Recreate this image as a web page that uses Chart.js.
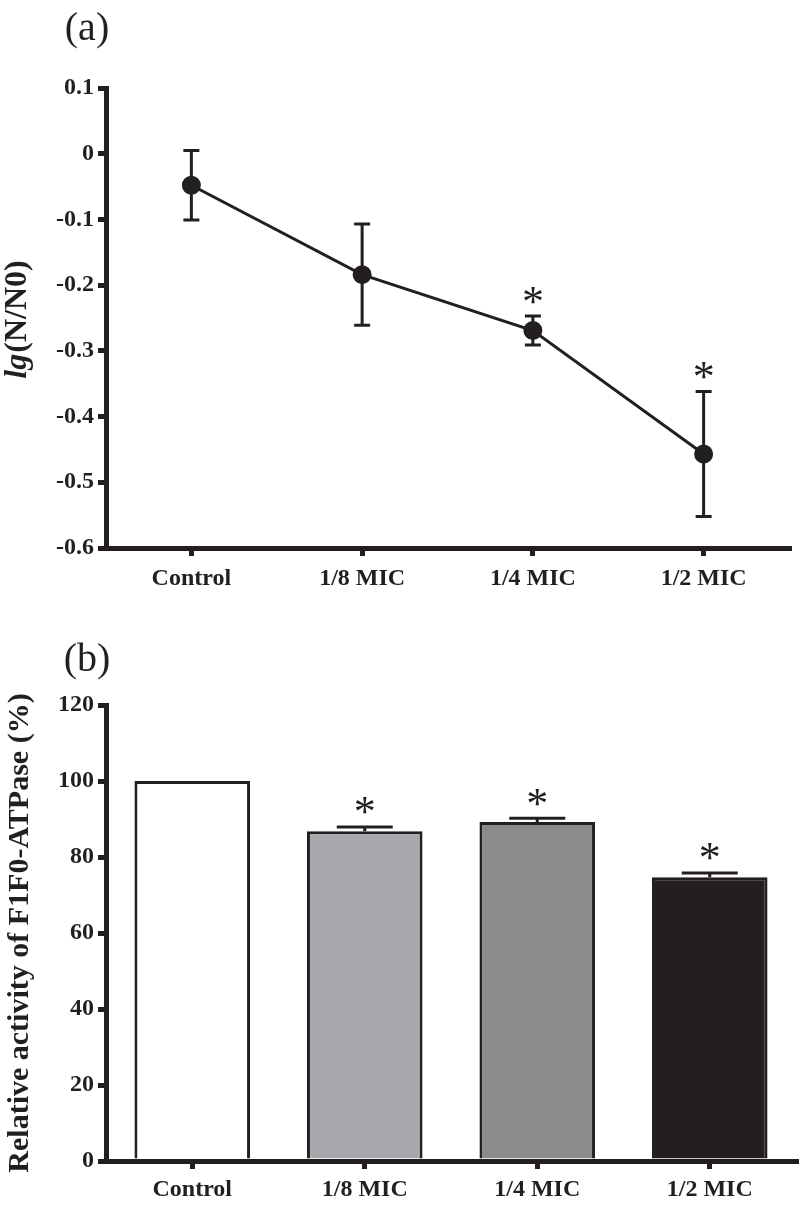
<!DOCTYPE html>
<html>
<head>
<meta charset="utf-8">
<script src="https://cdn.jsdelivr.net/npm/chart.js@4.4.0/dist/chart.umd.min.js"></script>
<style>
  body { margin: 0; background: #fff; }
  .panel { position: absolute; left: 0; width: 800px; }
  #panelA { top: 0; height: 600px; }
  #panelB { top: 600px; height: 606px; }
</style>
</head>
<body>
<div class="panel" id="panelA"><canvas id="chartA"></canvas></div>
<div class="panel" id="panelB"><canvas id="chartB"></canvas></div>
<script>
// Data
const categories = ['Control', '1/8 MIC', '1/4 MIC', '1/2 MIC'];

// panel (a): lg(N/N0)
const logValues = [-0.048, -0.184, -0.269, -0.457];
const logErrors = [0.053, 0.077, 0.022, 0.095];
const logSignificant = [false, false, true, true];

// panel (b): relative F1F0-ATPase activity
const activityValues = [100, 86.8, 89.2, 74.7];
const activityErrors = [0, 1.1, 1.0, 1.1];
const activitySignificant = [false, true, true, true];
const barColors = ['#ffffff', '#a7a9ac', '#8a8b8d', '#231f20'];

const INK = '#231f20';
const SERIF = "'Liberation Serif', 'Times New Roman', serif";

// Error bars + asterisks drawn through the chart scales
function errorBarPlugin(values, errors, significant, capHalf, upOnly) {
  return {
    id: 'errorBars',
    afterDatasetsDraw(chart) {
      const ctx = chart.ctx;
      const x = chart.scales.x, y = chart.scales.y;
      ctx.save();
      ctx.strokeStyle = INK;
      ctx.lineWidth = 3;
      values.forEach((v, i) => {
        if (!errors[i]) return;
        const px = x.getPixelForValue(i);
        const top = y.getPixelForValue(v + errors[i]);
        const bot = upOnly ? y.getPixelForValue(v) : y.getPixelForValue(v - errors[i]);
        ctx.beginPath();
        ctx.moveTo(px, top); ctx.lineTo(px, bot);
        ctx.moveTo(px - capHalf, top); ctx.lineTo(px + capHalf, top);
        if (!upOnly) { ctx.moveTo(px - capHalf, bot); ctx.lineTo(px + capHalf, bot); }
        ctx.stroke();
      });
      // significance marks
      ctx.fillStyle = INK;
      ctx.font = '44px ' + SERIF;
      ctx.textAlign = 'center';
      ctx.textBaseline = 'alphabetic';
      values.forEach((v, i) => {
        if (!significant[i]) return;
        const px = x.getPixelForValue(i);
        const top = y.getPixelForValue(v + errors[i]);
        const m = ctx.measureText('*');
        const cy = top - 21;
        ctx.fillText('*', px, cy + (m.actualBoundingBoxAscent - m.actualBoundingBoxDescent) / 2);
      });
      ctx.restore();
    }
  };
}

// Panel letter and custom y title
function decorPlugin(letter, letterY, drawTitle) {
  return {
    id: 'decor',
    afterDraw(chart) {
      const ctx = chart.ctx;
      ctx.save();
      ctx.fillStyle = INK;
      ctx.font = '40px ' + SERIF;
      ctx.textAlign = 'center';
      ctx.textBaseline = 'middle';
      ctx.fillText(letter, 87, letterY);
      if (drawTitle) drawTitle(ctx, chart);
      ctx.restore();
    }
  };
}

function axisOptions() {
  return {
    border: { display: true, color: INK, width: 5 },
    grid: { display: true, drawOnChartArea: false, color: INK, lineWidth: 5, tickLength: 8, offset: false },
    ticks: { color: INK, font: { family: SERIF, size: 24, weight: 'bold' }, padding: 4 }
  };
}

Chart.defaults.animation = false;

// (a) line chart
const xA = axisOptions();
xA.offset = true;
xA.ticks.padding = 8;
xA.afterFit = s => { s.height = 52; };
const yA = axisOptions();
yA.min = -0.6; yA.max = 0.1;
yA.ticks.stepSize = 0.1;
yA.ticks.callback = v => (Math.abs(v) < 1e-9 ? '0' : parseFloat(v.toFixed(1)).toString());
yA.afterFit = s => { s.width = 106; };

new Chart(document.getElementById('chartA'), {
  type: 'line',
  data: {
    labels: categories,
    datasets: [{
      data: logValues,
      borderColor: INK,
      borderWidth: 3,
      pointRadius: 8,
      pointBackgroundColor: INK,
      pointBorderColor: INK,
      tension: 0
    }]
  },
  options: {
    responsive: true,
    maintainAspectRatio: false,
    layout: { padding: { top: 88, right: 4, left: 0, bottom: 0 } },
    scales: { x: xA, y: yA },
    plugins: { legend: { display: false }, tooltip: { enabled: false } }
  },
  plugins: [
    errorBarPlugin(logValues, logErrors, logSignificant, 8, false),
    decorPlugin('(a)', 29, (ctx) => {
      // rotated "lg(N/N0)" with italic lg
      ctx.translate(18, 320);
      ctx.rotate(-Math.PI / 2);
      ctx.textAlign = 'left';
      ctx.textBaseline = 'middle';
      const f1 = 'bold italic 32px ' + SERIF;
      const f2 = 'bold 32px ' + SERIF;
      ctx.font = f1; const w1 = ctx.measureText('lg').width;
      ctx.font = f2; const w2 = ctx.measureText('(N/N0)').width;
      const start = -(w1 + w2) / 2;
      ctx.font = f1; ctx.fillText('lg', start, 0);
      ctx.font = f2; ctx.fillText('(N/N0)', start + w1 + 1, 0);
    })
  ]
});

// (b) bar chart
const xB = axisOptions();
xB.offset = true;
xB.ticks.padding = 6;
xB.afterFit = s => { s.height = 45; };
const yB = axisOptions();
yB.min = 0; yB.max = 120;
yB.ticks.stepSize = 20;
yB.title = { display: true, text: 'Relative activity of F1F0-ATPase (%)', color: INK,
  font: { family: SERIF, size: 30, weight: 'bold' }, padding: { top: 2, bottom: 0 } };
yB.afterFit = s => { s.width = 106; };

new Chart(document.getElementById('chartB'), {
  type: 'bar',
  data: {
    labels: categories,
    datasets: [{
      data: activityValues,
      backgroundColor: barColors,
      borderColor: INK,
      borderWidth: 3,
      categoryPercentage: 1,
      barPercentage: 0.67
    }]
  },
  options: {
    responsive: true,
    maintainAspectRatio: false,
    layout: { padding: { top: 105, right: 4, left: 0, bottom: 0 } },
    scales: { x: xB, y: yB },
    plugins: { legend: { display: false }, tooltip: { enabled: false } }
  },
  plugins: [
    errorBarPlugin(activityValues, activityErrors, activitySignificant, 28, true),
    decorPlugin('(b)', 60)
  ]
});
</script>
</body>
</html>
